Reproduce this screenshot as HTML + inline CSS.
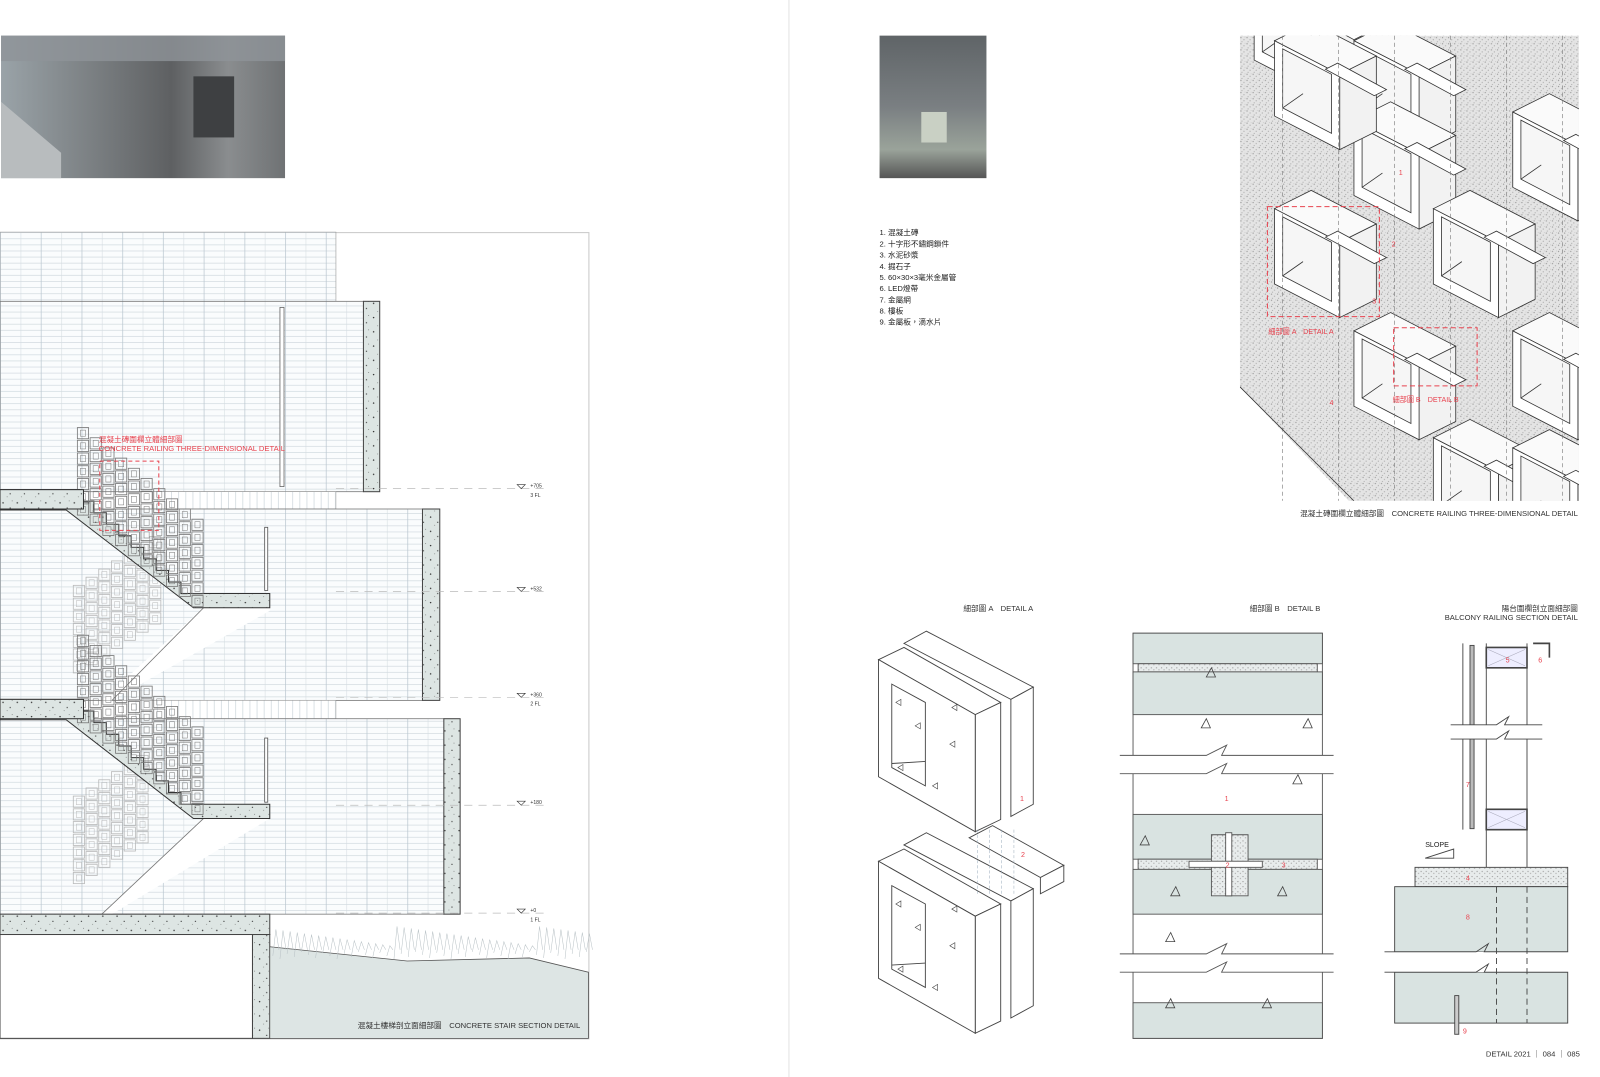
<!DOCTYPE html>
<html><head><meta charset="utf-8">
<style>
html,body{margin:0;padding:0;background:#fff;}
svg{display:block;}
text{font-family:"Liberation Sans","Noto Sans CJK TC",sans-serif;}
</style></head>
<body>
<svg id="s" xmlns="http://www.w3.org/2000/svg" width="1600" height="1077" viewBox="0 0 1600 1077">
<defs>
<pattern id="grid" width="40" height="6" patternUnits="userSpaceOnUse">
<rect width="40" height="6" fill="#fafcfd"/>
<line x1="0" y1="0.5" x2="40" y2="0.5" stroke="#c9d3da" stroke-width="0.6"/>
<line x1="0.5" y1="0" x2="0.5" y2="6" stroke="#b9c6cf" stroke-width="0.7"/>
<line x1="20.5" y1="0" x2="20.5" y2="6" stroke="#d3dbe0" stroke-width="0.5"/>
</pattern>
<pattern id="vstrip" width="7" height="10" patternUnits="userSpaceOnUse">
<rect width="7" height="10" fill="#fff"/>
<line x1="0.5" y1="0" x2="0.5" y2="10" stroke="#c4ced5" stroke-width="0.6"/>
</pattern>
<pattern id="conc" width="14" height="14" patternUnits="userSpaceOnUse">
<rect width="14" height="14" fill="#dde5e3"/>
<circle cx="3" cy="4" r="0.7" fill="#333"/><circle cx="10" cy="9" r="0.6" fill="#333"/>
<circle cx="7" cy="12" r="0.4" fill="#555"/><circle cx="12" cy="2" r="0.4" fill="#555"/>
</pattern>
<pattern id="stip" width="6" height="6" patternUnits="userSpaceOnUse">
<rect width="6" height="6" fill="#e4e4e4"/>
<circle cx="1" cy="1" r="0.6" fill="#999"/><circle cx="4" cy="3" r="0.6" fill="#aaa"/>
<circle cx="2" cy="5" r="0.5" fill="#999"/><circle cx="5" cy="0.5" r="0.4" fill="#bbb"/>
</pattern>
<pattern id="mort" width="5" height="5" patternUnits="userSpaceOnUse">
<rect width="5" height="5" fill="#e8ecec"/>
<circle cx="1" cy="1" r="0.6" fill="#999"/><circle cx="3.5" cy="3" r="0.6" fill="#aaa"/>
</pattern>
<linearGradient id="ph1" x1="0" y1="0" x2="1" y2="0">
<stop offset="0" stop-color="#9aa3a8"/><stop offset="0.3" stop-color="#7d8285"/><stop offset="0.6" stop-color="#5e6062"/><stop offset="0.8" stop-color="#8a8d8f"/><stop offset="1" stop-color="#6f7274"/>
</linearGradient>
<linearGradient id="ph2" x1="0" y1="0" x2="0" y2="1">
<stop offset="0" stop-color="#5f6467"/><stop offset="0.5" stop-color="#7a7f82"/><stop offset="0.8" stop-color="#9aa39a"/><stop offset="1" stop-color="#555"/>
</linearGradient>
<clipPath id="isoclip"><rect x="1218" y="35" width="333" height="457"/></clipPath>
</defs>
<g id="root" transform="scale(1.018)">
<line x1="775" y1="0" x2="775" y2="1077" stroke="#e2e2e2" stroke-width="1"/>
<rect x="1" y="35" width="279" height="140" fill="url(#ph1)"/>
<rect x="1" y="35" width="279" height="25" fill="#8f9498" opacity="0.8"/>
<polygon points="1,100 60,150 60,175 1,175" fill="#b8bcbe"/>
<rect x="190" y="75" width="40" height="60" fill="#3e4042"/>
<rect x="864" y="35" width="105" height="140" fill="url(#ph2)"/>
<rect x="905" y="110" width="25" height="30" fill="#c9d0c4"/>

<rect x="0.5" y="228.5" width="578" height="792" fill="none" stroke="#c8c8c8"/>
<rect x="0" y="228" width="330" height="68" fill="url(#grid)" stroke="#999" stroke-width="0.6"/>
<rect x="0" y="296" width="357" height="187" fill="url(#grid)" stroke="#777" stroke-width="0.8"/>
<rect x="357" y="296" width="16" height="187" fill="url(#conc)" stroke="#444"/>
<rect x="275" y="302" width="4" height="176" fill="#fff" stroke="#666" stroke-width="0.8"/>
<rect x="150" y="483" width="180" height="17" fill="url(#vstrip)" stroke="#999" stroke-width="0.5"/>
<rect x="0" y="500" width="415" height="188" fill="url(#grid)" stroke="#777" stroke-width="0.8"/>
<rect x="415" y="500" width="17" height="188" fill="url(#conc)" stroke="#444"/>
<rect x="120" y="688" width="210" height="18" fill="url(#vstrip)" stroke="#999" stroke-width="0.5"/>
<rect x="0" y="706" width="436" height="192" fill="url(#grid)" stroke="#777" stroke-width="0.8"/>
<rect x="436" y="706" width="16" height="192" fill="url(#conc)" stroke="#444"/>
<polygon points="100,688 200,597 265,597 265,600 110,688" fill="#fff"/>
<line x1="200" y1="597" x2="110" y2="688" stroke="#777" stroke-width="0.8"/>
<polygon points="100,898 200,804 265,804 110,898" fill="#fff"/>
<line x1="200" y1="804" x2="100" y2="898" stroke="#777" stroke-width="0.8"/>
<g id="flights"></g>
<rect x="260" y="518" width="3" height="62" fill="#fff" stroke="#555" stroke-width="0.8"/>
<rect x="260" y="725" width="3" height="63" fill="#fff" stroke="#555" stroke-width="0.8"/>
<rect x="0" y="898" width="265" height="20" fill="url(#conc)" stroke="#444"/>
<rect x="248" y="918" width="17" height="102" fill="url(#conc)" stroke="#444"/>
<rect x="0" y="918" width="248" height="102" fill="#fff" stroke="#444"/>
<polygon points="265,930 400,944 520,941 578,955 578,1020 265,1020" fill="#dde5e4" stroke="#555" stroke-width="0.8"/>
<g id="grass" stroke="#b8c1c5" stroke-width="0.5" fill="none"></g>
<g id="levels" font-size="5" fill="#333"></g>
<text x="97" y="434" font-size="7.5" fill="#e8434f">混凝土磚圍欄立體細部圖</text>
<text x="97" y="443" font-size="7.5" fill="#e8434f">CONCRETE RAILING THREE-DIMENSIONAL DETAIL</text>
<rect x="98" y="453" width="58" height="68" fill="none" stroke="#e8434f" stroke-width="1" stroke-dasharray="4,3"/>
<text x="570" y="1010" font-size="7.5" fill="#333" text-anchor="end">混凝土樓梯剖立面細部圖　CONCRETE STAIR SECTION DETAIL</text>

<g font-size="7.5" fill="#222">
<text x="864" y="231">1. 混凝土磚</text>
<text x="864" y="242">2. 十字形不鏽鋼鎖件</text>
<text x="864" y="253">3. 水泥砂漿</text>
<text x="864" y="264">4. 掘石子</text>
<text x="864" y="275">5. 60×30×3毫米金屬管</text>
<text x="864" y="286">6. LED燈帶</text>
<text x="864" y="297">7. 金屬網</text>
<text x="864" y="308">8. 樓板</text>
<text x="864" y="319">9. 金屬板，滴水片</text>
</g>

<g clip-path="url(#isoclip)">
<polygon points="1218,35 1551,35 1551,492 1325,492 1218,380" fill="url(#stip)"/>
<g id="iso" stroke="#333" stroke-width="0.8"></g>
</g>
<g font-size="7" fill="#e8434f">
<rect x="1245" y="203" width="110" height="108" fill="none" stroke="#e8434f" stroke-width="1" stroke-dasharray="5,3"/>
<text x="1246" y="328">細部圖 A　DETAIL A</text>
<rect x="1369" y="322" width="82" height="57" fill="none" stroke="#e8434f" stroke-width="1" stroke-dasharray="5,3"/>
<text x="1368" y="395">細部圖 B　DETAIL B</text>
<text x="1374" y="172">1</text><text x="1367" y="242">2</text><text x="1348" y="298">3</text><text x="1306" y="398">4</text>
</g>
<text x="1550" y="507" font-size="7.5" fill="#333" text-anchor="end">混凝土磚圍欄立體細部圖　CONCRETE RAILING THREE-DIMENSIONAL DETAIL</text>

<g font-size="7.5" fill="#333" text-anchor="end">
<text x="1015" y="600">細部圖 A　DETAIL A</text>
<text x="1297" y="600">細部圖 B　DETAIL B</text>
<text x="1550" y="600">陽台圍欄剖立面細部圖</text>
<text x="1550" y="609">BALCONY RAILING SECTION DETAIL</text>
<text x="1552" y="1038">DETAIL 2021 ｜ 084 ｜ 085</text>
</g>

<g id="detA" fill="#fff" stroke="#444" stroke-width="0.9"></g>

<g stroke="#555" stroke-width="0.9">
<rect x="1113" y="622" width="186" height="398" fill="#fff"/>
<rect x="1113" y="622" width="186" height="30" fill="#d9e3e1"/>
<rect x="1118" y="652" width="176" height="8" fill="url(#mort)"/>
<rect x="1113" y="660" width="186" height="42" fill="#d9e3e1"/>
<rect x="1113" y="800" width="186" height="44" fill="#d9e3e1"/>
<rect x="1118" y="844" width="176" height="10" fill="url(#mort)"/>
<rect x="1113" y="854" width="186" height="44" fill="#d9e3e1"/>
<rect x="1113" y="985" width="186" height="35" fill="#d9e3e1"/>
<path d="M1190,820 h36 v60 h-36z" fill="url(#mort)"/>
<rect x="1204" y="818" width="6" height="62" fill="#fff"/>
<rect x="1168" y="846" width="72" height="6" fill="#fff"/>
<rect x="1100" y="742" width="210" height="18" fill="#fff" stroke="none"/>
<path d="M1100,742 H1185 L1205,732 L1200,742 H1310 M1100,760 H1185 L1205,750 L1200,760 H1310" fill="none"/>
<rect x="1100" y="937" width="210" height="18" fill="#fff" stroke="none"/>
<path d="M1100,937 H1185 L1205,927 L1200,937 H1310 M1100,955 H1185 L1205,945 L1200,955 H1310" fill="none"/>
</g>
<g font-size="7" fill="#e8434f"><text x="1203" y="787">1</text><text x="1204" y="852">2</text><text x="1259" y="852">3</text></g>
<g id="triB" fill="none" stroke="#444" stroke-width="0.8"></g>

<g stroke="#444" stroke-width="0.9" fill="#fff">
<line x1="1437" y1="632" x2="1437" y2="815"/>
<line x1="1460" y1="632" x2="1460" y2="868"/>
<line x1="1500" y1="632" x2="1500" y2="868"/>
<rect x="1444" y="634" width="4" height="180" fill="#bbb"/>
<rect x="1460" y="636" width="40" height="20" fill="#eef" stroke-width="1.6"/>
<path d="M1462,638 L1498,654 M1498,638 L1462,654" stroke="#aab" stroke-width="0.6"/>
<path d="M1506,632 H1522 V646" fill="none" stroke-width="1.6"/>
<rect x="1460" y="795" width="40" height="20" fill="#eef" stroke-width="1.6"/>
<path d="M1462,797 L1498,813 M1498,797 L1462,813" stroke="#aab" stroke-width="0.6"/>
<rect x="1425" y="712" width="90" height="14" stroke="none"/>
<path d="M1425,712 H1470 L1482,704 L1478,712 H1515 M1425,726 H1470 L1482,718 L1478,726 H1515" fill="none"/>
<rect x="1390" y="852" width="150" height="19" fill="url(#mort)"/>
<rect x="1370" y="871" width="170" height="64" fill="#d9e3e1"/>
<rect x="1370" y="955" width="170" height="50" fill="#d9e3e1"/>
<rect x="1360" y="935" width="180" height="20" stroke="none"/>
<path d="M1360,935 H1450 L1462,927 L1458,935 H1540 M1360,955 H1450 L1462,947 L1458,955 H1540" fill="none"/>
<line x1="1470" y1="871" x2="1470" y2="1005" stroke-dasharray="6,4"/>
<line x1="1500" y1="871" x2="1500" y2="1005" stroke-dasharray="6,4"/>
<rect x="1429" y="978" width="4" height="38" fill="#ccc"/>
<polygon points="1400,843 1428,834 1428,843" fill="#fff"/>
</g>
<text x="1400" y="832" font-size="7" fill="#222">SLOPE</text>
<g font-size="7" fill="#e8434f"><text x="1479" y="651">5</text><text x="1511" y="651">6</text><text x="1440" y="773">7</text><text x="1440" y="865">4</text><text x="1440" y="903">8</text><text x="1437" y="1015">9</text></g>
</g>
</svg>
<script>
var NS="http://www.w3.org/2000/svg";
function el(p,t,a){var e=document.createElementNS(NS,t);for(var k in a)e.setAttribute(k,a[k]);p.appendChild(e);return e;}
var F=document.getElementById('flights');
function flight(x0,y0,x1,y1,landR){
  var n=9,pts=[],dx=(x1-x0)/n,dy=(y1-y0)/n;
  pts.push([0,y0],[x0,y0]);
  for(var i=0;i<n;i++){pts.push([x0+dx*i,y0+dy*(i+1)]);pts.push([x0+dx*(i+1),y0+dy*(i+1)]);}
  pts.push([landR,y1],[landR,y1+14],[x1,y1+14],[x0-15,y0+20],[0,y0+20]);
  el(F,'polygon',{points:pts.map(function(p){return p.join(',')}).join(' '),fill:'url(#conc)',stroke:'#333','stroke-width':1});
}
function blocks(x0,yt,cols,stepY,rows,col,op){
  for(var i=0;i<cols;i++){
    for(var j=0;j<rows;j++){
      var x=x0+i*12.5,y=yt+i*stepY+j*12.5;
      el(F,'rect',{x:x,y:y,width:11,height:11,fill:'none',stroke:col,'stroke-width':0.8,opacity:op});
      el(F,'rect',{x:x+3,y:y+2.5,width:5,height:6,fill:'none',stroke:col,'stroke-width':0.5,opacity:op});
    }
  }
}
blocks(72,575,7,-8,7,'#aaa',0.8);
blocks(72,782,6,-8,7,'#aaa',0.8);
flight(80,481,190,583,265);
flight(80,687,190,790,265);
blocks(76,420,10,10,7,'#777',1);
blocks(76,624,10,10,7,'#777',1);
el(F,'rect',{x:0,y:481,width:82,height:19,fill:'url(#conc)',stroke:'#333'});
el(F,'rect',{x:0,y:687,width:82,height:19,fill:'url(#conc)',stroke:'#333'});
var L=document.getElementById('levels');
[[480,'+705','3 FL'],[581,'+532',''],[685,'+360','2 FL'],[791,'+180',''],[897,'+0','1 FL']].forEach(function(v){
  el(L,'line',{x1:330,y1:v[0],x2:535,y2:v[0],stroke:'#bbb','stroke-width':0.7,'stroke-dasharray':'8,6'});
  el(L,'polygon',{points:'508,'+(v[0]-4)+' 516,'+(v[0]-4)+' 512,'+v[0],fill:'#fff',stroke:'#333','stroke-width':0.6});
  var t=el(L,'text',{x:521,y:v[0]-1});t.textContent=v[1];
  if(v[2]){var t2=el(L,'text',{x:521,y:v[0]+8});t2.textContent=v[2];}
});
var G=document.getElementById('grass'),d='';
for(var x=268;x<578;x+=7){var h=6+((x*37)%20);d+='M'+x+','+(935+((x*13)%8))+' L'+(x+3)+','+(935-h)+' L'+(x+6)+','+(933);}
el(G,'path',{d:d});
var I=document.getElementById('iso');
function cube(x,y){
  var w=64,s=33,h=74,dx=36,dy=-18;
  el(I,'polygon',{points:[x,y,x+dx,y+dy,x+w+dx,y+s+dy,x+w,y+s].join(','),fill:'#fafafa'});
  el(I,'polygon',{points:[x+w,y+s,x+w+dx,y+s+dy,x+w+dx,y+s+dy+h,x+w,y+s+h].join(','),fill:'#f2f2f2'});
  el(I,'polygon',{points:[x,y,x+w,y+s,x+w,y+s+h,x,y+h].join(','),fill:'#fff'});
  el(I,'polygon',{points:[x+8,y+8,x+w-8,y+s+0,x+w-8,y+s+h-16,x+8,y+h-8].join(','),fill:'#f6f6f6'});
  el(I,'line',{x1:x+8,y1:y+h-8,x2:x+28,y2:y+h-22});
  el(I,'polygon',{points:[x+50,y+28,x+62,y+22,x+110,y+48,x+98,y+54].join(','),fill:'#fff'});
}
[[1232,-15],[1330,40],[1330,118],[1252,205],[1408,205],[1330,325],[1486,325],[1408,430],[1252,40],[1486,110],[1486,440]].forEach(function(c){cube(c[0],c[1]);});
for(var k=0;k<6;k++){el(I,'line',{x1:1260+k*55,y1:35,x2:1260+k*55,y2:492,stroke:'#777','stroke-dasharray':'4,3','stroke-width':0.6});}
el(I,'line',{x1:1218,y1:380,x2:1330,y2:492});
var A=document.getElementById('detA');
function blockA(oy){
  el(A,'polygon',{points:[888,632+oy,910,620+oy,1015,675+oy,993,687+oy].join(',')});
  el(A,'polygon',{points:[993,687+oy,1015,675+oy,1015,790+oy,993,802+oy].join(',')});
  el(A,'polygon',{points:[863,648+oy,888,636+oy,983,690+oy,958,702+oy].join(',')});
  el(A,'polygon',{points:[958,702+oy,983,690+oy,983,805+oy,958,817+oy].join(',')});
  el(A,'polygon',{points:[863,648+oy,958,702+oy,958,817+oy,863,763+oy].join(',')});
  el(A,'polygon',{points:[876,672+oy,909,690+oy,909,772+oy,876,754+oy].join(',')});
  el(A,'line',{x1:876,y1:750+oy,x2:909,y2:748+oy});
  for(var t=0;t<6;t++){var tx=880+((t*53)%70),ty=690+oy+((t*41)%100);el(A,'polygon',{points:[tx,ty,tx+5,ty-3,tx+5,ty+3].join(','),'stroke-width':0.6});}
}
blockA(0);blockA(198);
el(A,'polygon',{points:[952,823,975,811,1045,850,1022,862].join(',')});
el(A,'polygon',{points:[1022,862,1045,850,1045,866,1022,878].join(',')});
var ta=el(A,'text',{x:1002,y:787,'font-size':7,fill:'#e8434f',stroke:'none'});ta.textContent='1';
var tb=el(A,'text',{x:1003,y:842,'font-size':7,fill:'#e8434f',stroke:'none'});tb.textContent='2';
for(var k=0;k<4;k++)el(A,'line',{x1:960+k*12,y1:815,x2:960+k*12,y2:880,stroke:'#9ab','stroke-dasharray':'3,2','stroke-width':0.5});
var T=document.getElementById('triB');
[[1180,715],[1280,715],[1145,990],[1240,990],[1150,880],[1255,880],[1120,830],[1270,770],[1145,925],[1185,665]].forEach(function(p){
  el(T,'polygon',{points:[p[0],p[1],p[0]+5,p[1]-9,p[0]+9,p[1]].join(',')});});
</script>
</body></html>
